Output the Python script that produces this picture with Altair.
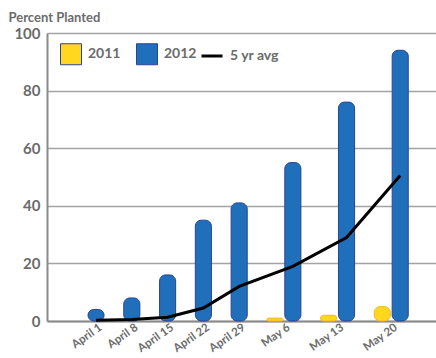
import altair as alt
import pandas as pd

weeks = ["April 1", "April 8", "April 15", "April 22", "April 29", "May 6", "May 13", "May 20"]
pct_2011 = [None, None, None, None, None, 1, 2, 5]
pct_2012 = [4, 8, 16, 35, 41, 55, 76, 94]
avg_5yr = [0.3, 0.5, 1.3, 4.5, 12, 19, 29, 50.5]

# Slot layout derived from the data: each week takes one slot per bar, plus one empty slot between weeks
bar_rows, week_rows = [], []
cursor = 0
for w, a, b, m in zip(weeks, pct_2011, pct_2012, avg_5yr):
    slots = []
    if a is not None:
        bar_rows.append({"week": w, "year": "2011", "value": a, "slot": cursor})
        slots.append(cursor)
        cursor += 1
    bar_rows.append({"week": w, "year": "2012", "value": b, "slot": cursor})
    slots.append(cursor)
    week_rows.append({"week": w, "center": sum(slots) / len(slots), "avg": m,
                      "avg_slot": cursor, "series": "5 yr avg"})
    cursor += 2

bars_df = pd.DataFrame(bar_rows)
weeks_df = pd.DataFrame(week_rows)

FONT = "Lato"
GREY = "#6b6b6b"
W, H = 389, 288

xscale = alt.Scale(domain=[-2.74, 19.0], nice=False, zero=False)
yscale = alt.Scale(domain=[0, 100], nice=False)

bars = alt.Chart(bars_df).transform_calculate(
    x0="datum.slot - 0.45", x1="datum.slot + 0.45"
).mark_bar(cornerRadius=6, strokeWidth=1).encode(
    x=alt.X("x0:Q", scale=xscale,
            axis=alt.Axis(labels=False, ticks=False, grid=False, title=None,
                          domainColor="#8a8a8a", domainWidth=2)),
    x2="x1:Q",
    y=alt.Y("value:Q", scale=yscale,
            axis=alt.Axis(values=[0, 20, 40, 60, 80, 100], ticks=False, grid=True,
                          gridColor="#a3a3a3", gridWidth=1.5,
                          domainColor="#8a8a8a", domainWidth=2,
                          labelFont=FONT, labelFontSize=15, labelFontWeight="bold",
                          labelColor=GREY, labelPadding=7,
                          title="Percent Planted", titleAngle=0, titleAlign="left",
                          titleBaseline="alphabetic", titleX=-39, titleY=-12,
                          titleFont=FONT, titleFontSize=13, titleFontWeight="bold",
                          titleColor=GREY)),
    y2=alt.datum(0),
    color=alt.Color("year:N",
                    scale=alt.Scale(domain=["2011", "2012"], range=["#ffd71e", "#1f6fbb"]),
                    legend=alt.Legend(orient="none", legendX=13, legendY=10,
                                      direction="horizontal", title=None,
                                      symbolType="square", symbolSize=441,
                                      symbolStrokeWidth=1, symbolOpacity=1,
                                      labelFont=FONT, labelFontSize=14,
                                      labelFontWeight="bold", labelColor=GREY,
                                      labelOffset=6, columnPadding=13)),
    stroke=alt.condition("datum.year == '2011'", alt.value("#f5b52a"), alt.value("#2c4393")),
)

line = alt.Chart(weeks_df).mark_line(strokeWidth=3).encode(
    x=alt.X("avg_slot:Q", scale=xscale),
    y=alt.Y("avg:Q", scale=yscale),
    stroke=alt.Stroke("series:N", scale=alt.Scale(range=["#000000"]),
                      legend=alt.Legend(orient="none", legendX=153, legendY=11,
                                        title=None, symbolType="stroke",
                                        symbolSize=441, symbolStrokeWidth=3,
                                        labelFont=FONT, labelFontSize=14,
                                        labelFontWeight="bold", labelColor=GREY,
                                        labelOffset=6)),
)

labels = alt.Chart(weeks_df).mark_text(
    angle=325, align="right", baseline="top", font=FONT, fontSize=11.5,
    fontWeight="bold", color=GREY, dx=2
).encode(
    x=alt.X("center:Q", scale=xscale),
    y=alt.value(H + 2),
    text="week:N",
)

chart = alt.layer(bars, line, labels).properties(
    width=W, height=H,
    padding={"left": 47, "top": 33, "right": 0, "bottom": 358 - 33 - H},
    autosize=alt.AutoSizeParams(type="none"),
    background="white",
).configure_view(strokeWidth=0)

chart.save("out.html", embed_options={"renderer": "svg", "actions": False})
